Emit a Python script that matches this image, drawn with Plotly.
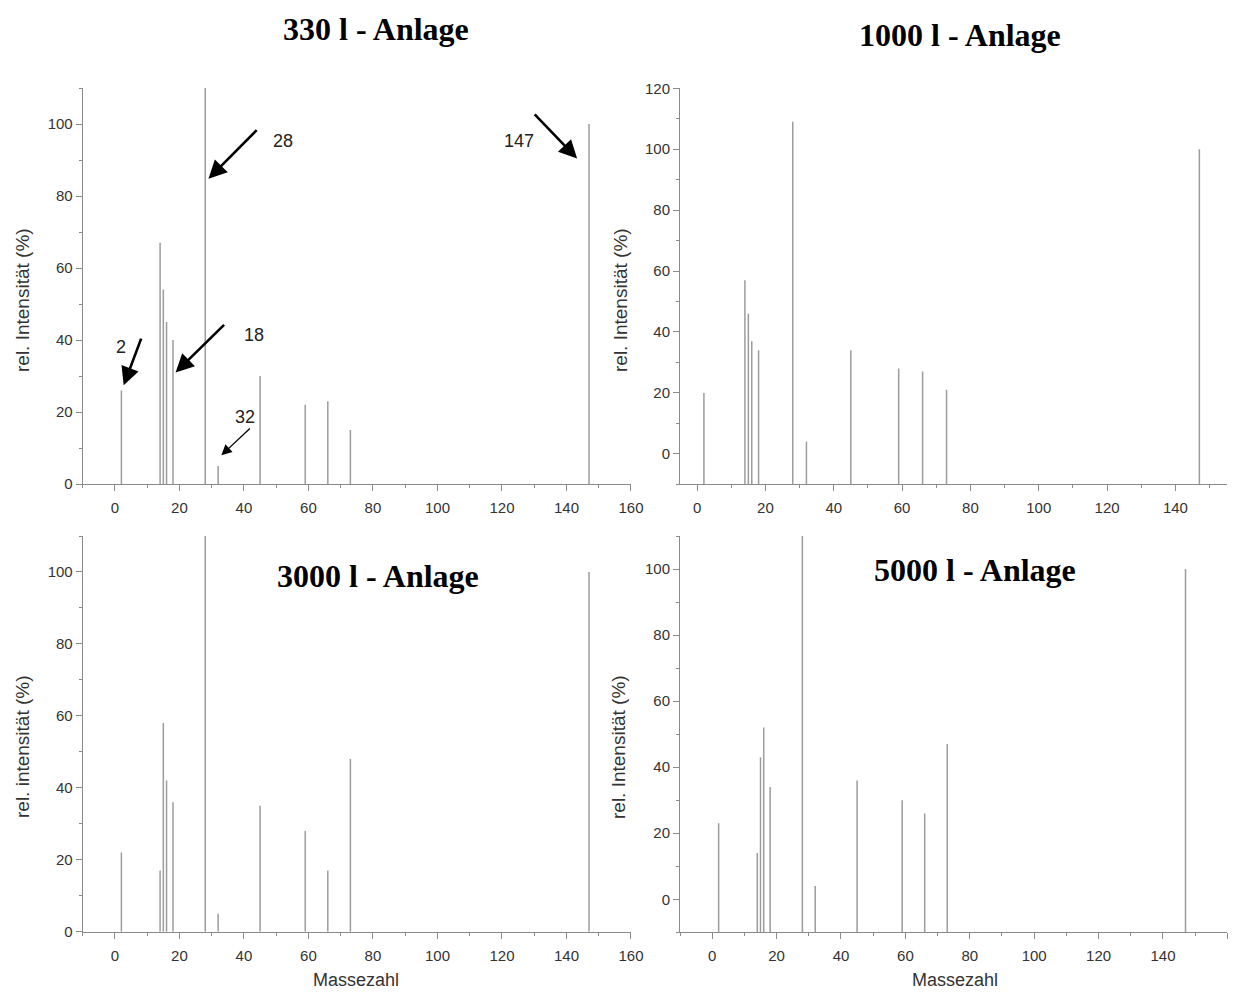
import plotly.graph_objects as go
from plotly.subplots import make_subplots

# Mass numbers of the recorded peaks (same for every plant)
masses = [2, 14, 15, 16, 18, 28, 32, 45, 59, 66, 73, 147]

# Relative intensities (%) per plant size
int_330 = [26, 67, 54, 45, 40, 110, 5, 30, 22, 23, 15, 100]
int_1000 = [20, 57, 46, 37, 34, 109, 4, 34, 28, 27, 21, 100]
int_3000 = [22, 17, 58, 42, 36, 110, 5, 35, 28, 17, 48, 100]
int_5000 = [23, 14, 43, 52, 34, 110, 4, 36, 30, 26, 47, 100]

titles = ["330 l - Anlage", "1000 l - Anlage", "3000 l - Anlage", "5000 l - Anlage"]
ytitles = ["rel. Intensität (%)", "rel. Intensität (%)", "rel. intensität (%)", "rel. Intensität (%)"]
xtitle = "Massezahl"

# Axis ranges per panel
xranges = [[-10, 160.01], [-5, 155], [-10, 160.01], [-10, 160.01]]
yranges = [[0, 110], [-10, 120], [0, 110], [-10, 110]]

W, H = 1238, 992

def px_x(p):
    return p / W

def px_y(p):
    return 1 - p / H

# Plot-area domains in paper fractions
xdomains = [[px_x(82.7), px_x(631)], [px_x(680), px_x(1226.7)],
            [px_x(82.7), px_x(631)], [px_x(680), px_x(1227.4)]]
ydomains = [[px_y(484), px_y(88)], [px_y(484.3), px_y(88.3)],
            [px_y(931.7), px_y(536)], [px_y(932.3), px_y(536)]]

fig = make_subplots(rows=2, cols=2)
series = [int_330, int_1000, int_3000, int_5000]
cells = [(1, 1), (1, 2), (2, 1), (2, 2)]

BAR = "#9c9c9c"
AXIS = "#8a8a8a"
TXT = "#333333"
FONT = "Liberation Sans, Arial, sans-serif"

for i, (vals, (r, c)) in enumerate(zip(series, cells)):
    base = yranges[i][0]
    xs, ys = [], []
    for m, v in zip(masses, vals):
        xs += [m, m, None]
        ys += [base, v, None]
    fig.add_trace(go.Scatter(x=xs, y=ys, mode="lines",
                             line=dict(color=BAR, width=1.5),
                             showlegend=False, hoverinfo="skip"), row=r, col=c)

for i in range(4):
    sfx = "" if i == 0 else str(i + 1)
    fig.layout["xaxis" + sfx].update(
        domain=xdomains[i], range=xranges[i], tick0=0, dtick=20, automargin=False,
        showline=True, linecolor=AXIS, linewidth=1, showgrid=False, zeroline=False,
        ticks="outside", ticklen=6, tickcolor=AXIS, tickwidth=1,
        minor=dict(ticks="outside", ticklen=3, dtick=10, tick0=0, tickcolor=AXIS),
        tickfont=dict(family=FONT, size=15, color=TXT), ticklabelstandoff=4,
    )
    fig.layout["yaxis" + sfx].update(
        domain=ydomains[i], range=yranges[i], tick0=0, dtick=20, automargin=False,
        showline=True, linecolor=AXIS, linewidth=1, showgrid=False, zeroline=False,
        ticks="outside", ticklen=6, tickcolor=AXIS, tickwidth=1,
        minor=dict(ticks="outside", ticklen=3, dtick=10, tick0=0, tickcolor=AXIS),
        tickfont=dict(family=FONT, size=15, color=TXT),
    )

annotations = []

# Panel titles
title_pos = [(376, 29), (960, 35), (378, 576), (975, 570)]
for t, (x, y) in zip(titles, title_pos):
    annotations.append(dict(text="<b>%s</b>" % t, x=px_x(x), y=px_y(y), xref="paper", yref="paper",
                            showarrow=False, xanchor="center", yanchor="middle",
                            font=dict(family="Liberation Serif, Times New Roman, serif", size=32, color="black")))

# Y axis titles
ytitle_pos = [(22, 300), (620, 300), (22, 747), (618, 747)]
for t, (x, y) in zip(ytitles, ytitle_pos):
    annotations.append(dict(text=t, x=px_x(x), y=px_y(y), xref="paper", yref="paper",
                            showarrow=False, textangle=-90, xanchor="center", yanchor="middle",
                            font=dict(family=FONT, size=19, color=TXT)))

# X axis titles (bottom row)
for x in (356, 955):
    annotations.append(dict(text=xtitle, x=px_x(x), y=px_y(980), xref="paper", yref="paper",
                            showarrow=False, xanchor="center", yanchor="middle",
                            font=dict(family=FONT, size=18, color=TXT)))

# Peak markers in the 330 l spectrum: (label, label x, label y, tail x, tail y, head x, head y, width)
peak_marks = [
    ("28", 52.1, 95.4, 44.4, 98.7, 29.0, 84.8, 2.6),
    ("147", 125.4, 95.4, 129.7, 103.1, 143.3, 90.4, 2.6),
    ("2", 1.8, 38.0, 8.3, 40.8, 2.7, 27.4, 2.6),
    ("18", 43.2, 41.3, 34.3, 44.6, 18.8, 31.0, 2.6),
    ("32", 40.4, 18.6, 42.3, 15.8, 33.0, 8.0, 1.3),
]
for lbl, lx, ly, tx, ty, hx, hy, w in peak_marks:
    annotations.append(dict(text="", x=hx, y=hy, ax=tx, ay=ty, xref="x", yref="y",
                            axref="x", ayref="y", showarrow=True, arrowhead=2,
                            arrowsize=1.4 if w > 2 else 1.6, arrowwidth=w, arrowcolor="black"))
    annotations.append(dict(text=lbl, x=lx, y=ly, xref="x", yref="y", showarrow=False,
                            font=dict(family=FONT, size=18, color="#222222")))

fig.update_layout(
    width=W, height=H, margin=dict(l=0, r=0, t=0, b=0, autoexpand=False),
    paper_bgcolor="white", plot_bgcolor="white",
    annotations=annotations, showlegend=False,
    # the page ends just right of the last axis
    shapes=[dict(type="rect", xref="paper", yref="paper", x0=px_x(1229), x1=1, y0=0, y1=1,
                 fillcolor="white", line=dict(width=0), layer="above")],
)

fig.write_html("out.html")
